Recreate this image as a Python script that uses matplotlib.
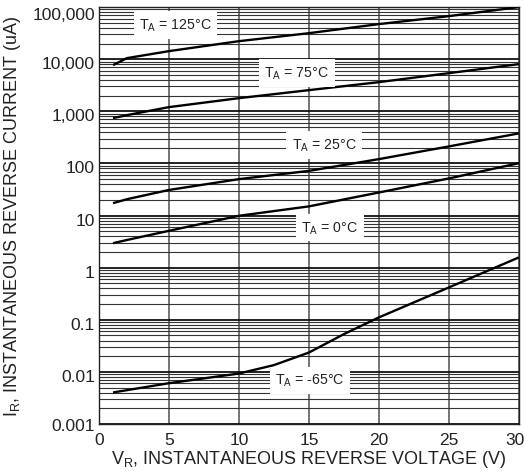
import matplotlib
matplotlib.use("Agg")
import matplotlib.pyplot as plt
import matplotlib.transforms as mtransforms
from matplotlib.ticker import FixedLocator, LogLocator, NullFormatter

plt.rcParams['font.family'] = ['Liberation Sans', 'DejaVu Sans']
plt.rcParams['mathtext.fontset'] = 'custom'
plt.rcParams['mathtext.rm'] = 'Liberation Sans'

# reverse current (uA) vs reverse voltage (V)
v_125 = [1, 2, 5, 10, 15, 20, 25, 30]
i_125 = [7700, 10500, 14300, 22200, 31600, 47200, 67100, 100000]

v_75 = [1, 2, 5, 10, 15, 20, 25, 30]
i_75 = [741, 846, 1205, 1790, 2550, 3630, 5400, 8050]

v_25 = [1, 2, 5, 10, 15, 20, 25, 30]
i_25 = [17.3, 20.6, 31, 50, 72, 121, 212, 377]

v_0 = [1, 2, 5, 10, 15, 20, 25, 30]
i_0 = [2.95, 3.4, 5.1, 9.9, 15, 27.7, 51.5, 101]

v_m65 = [1, 5, 10, 12.5, 15, 17.5, 20, 25, 30]
i_m65 = [0.00403, 0.00607, 0.0093, 0.0135, 0.0235, 0.053, 0.111, 0.417, 1.57]

curve_names = ["125°C", "75°C", "25°C", "0°C", "-65°C"]
label_v = [5.46, 14.14, 16.1, 16.5, 15.07]
label_i = [45200, 5400, 224, 5.9, 0.0069]

y_ticks = [0.001, 0.01, 0.1, 1, 10, 100, 1000, 10000, 100000]
y_ticklabels = ["0.001", "0.01", "0.1", "1", "10", "100", "1,000", "10,000", "100,000"]
x_ticks = [0, 5, 10, 15, 20, 25, 30]

fig = plt.figure(figsize=(5.24, 4.77), dpi=100)
ax = fig.add_axes([0.189, 0.109, 0.801, 0.874])

ax.set_yscale('log')
ax.set_xlim(0, 30)
ax.set_ylim(0.001, 100000)

ax.yaxis.set_major_locator(FixedLocator(y_ticks))
ax.set_yticklabels(y_ticklabels)
ax.yaxis.set_minor_locator(LogLocator(base=10, subs=range(2, 10), numticks=20))
ax.yaxis.set_minor_formatter(NullFormatter())
ax.set_xticks(x_ticks)

ax.grid(True, which='major', axis='x', color='#6a6a6a', linewidth=1.3)
ax.grid(True, which='major', axis='y', color='#111111', linewidth=1.3)
ax.grid(True, which='minor', axis='y', color='#333333', linewidth=0.8)
ax.set_axisbelow(True)

ax.tick_params(axis='both', which='both', length=0, labelsize=12.5, colors='#222222')
ax.tick_params(axis='x', pad=6)
ax.tick_params(axis='y', pad=3)

# nudge tick labels the way the datasheet has them
def shift(lbl, dx_px, dy_px):
    lbl.set_transform(lbl.get_transform() +
                      mtransforms.ScaledTranslation(dx_px / 100, dy_px / 100, fig.dpi_scale_trans))

ylabels = ax.get_yticklabels()
for lbl in ylabels[1:-1]:
    shift(lbl, 0, -3)
shift(ylabels[-1], 0, -6)
shift(ax.get_xticklabels()[-1], -4, 0)

for side in ax.spines:
    ax.spines[side].set_color('#222222')
    ax.spines[side].set_linewidth(1.0)

curves = [(v_125, i_125), (v_75, i_75), (v_25, i_25), (v_0, i_0), (v_m65, i_m65)]
for (vv, ii) in curves:
    ax.plot(vv, ii, color='black', linewidth=1.7, solid_capstyle='butt', zorder=3)

for name, lv, li in zip(curve_names, label_v, label_i):
    ax.text(lv, li, r"T$_\mathregular{A}$ = " + name, fontsize=10.2, ha='center', va='center',
            color='#222222', zorder=4,
            bbox=dict(facecolor='white', edgecolor='none', pad=4))

ax.set_xlabel(r"V$_\mathregular{R}$, INSTANTANEOUS REVERSE VOLTAGE (V)", fontsize=13,
              color='#222222')
ax.xaxis.set_label_coords(0.5, -0.058)
ax.set_ylabel(r"I$_\mathregular{R}$, INSTANTANEOUS REVERSE CURRENT (uA)", fontsize=13,
              color='#222222')
ax.yaxis.set_label_coords(-0.181, 0.5)

fig.savefig("out.png", dpi=100)
